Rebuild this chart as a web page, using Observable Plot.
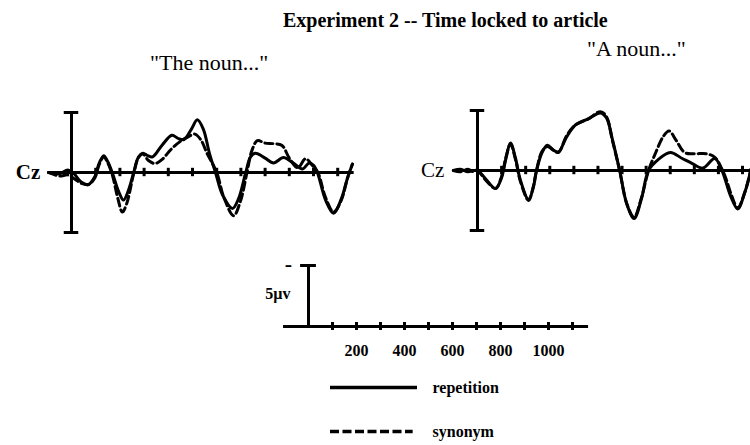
<!DOCTYPE html>
<html><head><meta charset="utf-8">
<script src="https://cdn.jsdelivr.net/npm/d3@7"></script>
<script src="https://cdn.jsdelivr.net/npm/@observablehq/plot@0.6"></script>
<style>
body{margin:0;background:#fff}
#fig{position:relative;width:750px;height:445px;overflow:hidden;font-family:"Liberation Serif",serif;color:#000}
#fig svg{position:absolute;left:0;top:0}
.lbl{position:absolute;white-space:nowrap;line-height:22px}
</style></head>
<body>
<div id="fig">
  <div class="lbl" id="title" style="left:283px;top:9px;font-size:20px;font-weight:bold;">Experiment 2 -- Time locked to article</div>
  <div class="lbl" id="sub1" style="left:150px;top:52px;font-size:22px;">"The noun..."</div>
  <div class="lbl" id="sub2" style="left:587px;top:38px;font-size:22px;">"A noun..."</div>
</div>
<script>
// ---- data (time in ms, amplitude in µV; negative plotted up) ----
const seriesNames = ["repetition", "synonym"];
const panelTitles = ["\"The noun...\"", "\"A noun...\""];
const channelLabel = "Cz";
const panelTicks = [100, 200, 300, 400, 500, 600, 700, 800, 900, 1000, 1100];
const scaleTickLabels = [200, 400, 600, 800, 1000];
const scaleLabel = "5µv";

const theRepetition = [[-95,0],[-50,0.1],[-15,-0.2],[10,0.1],[40,0.8],[70,1.0],[95,0.4],[115,-0.8],[133,-1.4],[150,-0.9],[170,0.1],[195,1.6],[215,2.3],[235,1.5],[257,0],[275,-1.2],[295,-1.6],[315,-1.4],[335,-1.3],[375,-2.3],[415,-3.1],[440,-2.85],[465,-2.75],[495,-3.6],[520,-4.4],[545,-3.6],[570,-1.6],[595,0],[625,1.9],[665,3.0],[690,2.2],[720,0],[740,-1.3],[760,-1.6],[800,-1.2],[835,-0.8],[876,-1.25],[915,-0.8],[955,-0.3],[982,-0.8],[1000,-0.6],[1016,0],[1050,2.3],[1083,3.4],[1115,2.2],[1140,0.5],[1161,-0.7]];
const theSynonym = [[-95,0],[-50,0.3],[-15,0.2],[10,0.5],[40,0.9],[70,1.0],[95,0.5],[115,-0.7],[133,-1.3],[150,-0.8],[170,0.3],[192,2.2],[210,3.3],[228,2.6],[258,0],[278,-1.3],[295,-1.55],[318,-1.0],[345,-0.75],[375,-1.1],[410,-1.9],[450,-2.6],[480,-2.95],[510,-3.2],[535,-2.7],[560,-1.6],[600,0],[630,2.1],[670,3.6],[698,2.4],[725,0],[745,-1.8],[768,-2.65],[800,-2.45],[835,-2.4],[870,-2.25],[900,-1.2],[935,-0.4],[967,-1.15],[995,-0.6],[1018,0],[1050,2.1],[1083,3.3],[1115,2.3],[1140,0.5],[1161,-0.7]];
const aRepetition = [[-100,0],[-70,-0.1],[-40,0.1],[-15,0],[0,0],[30,0.6],[75,1.5],[100,0.6],[118,-1.0],[137,-2.3],[158,-1.0],[178,0.8],[212,2.4],[232,1.4],[245,0],[268,-1.5],[290,-2.1],[315,-1.7],[336,-1.55],[370,-2.8],[407,-3.8],[460,-4.3],[510,-4.8],[535,-4.4],[560,-2.6],[590,0],[620,2.8],[650,4.0],[680,2.4],[710,0],[750,-0.9],[800,-1.5],[850,-1.0],[890,-0.6],[935,-0.2],[985,-1.0],[1015,0],[1050,2.1],[1080,3.2],[1110,1.8],[1135,-0.1]];
const aSynonym = [[-100,0],[-70,0.1],[-40,-0.1],[-15,0.1],[0,0],[30,0.7],[75,1.5],[100,0.5],[118,-1.1],[137,-2.2],[158,-0.9],[178,0.9],[212,2.5],[232,1.3],[245,0],[268,-1.6],[290,-2.0],[315,-1.7],[336,-1.5],[370,-2.9],[407,-3.8],[460,-4.3],[510,-4.9],[535,-4.5],[560,-2.5],[590,0],[620,2.8],[650,3.9],[680,2.3],[710,0],[740,-1.5],[770,-2.8],[795,-3.3],[825,-2.5],[860,-1.5],[900,-1.4],[950,-1.4],[985,-1.1],[1010,-0.3],[1030,0.6],[1055,2.1],[1080,3.1],[1110,1.8],[1135,-0.1]];

const fig = document.getElementById("fig");
const font = "Liberation Serif";
const base = {width: 750, height: 445, axis: null, style: {background: "transparent", fontFamily: font, color: "black"}};

function panel(rep, syn, xr, yr, bold, cdx) {
  return Plot.plot({
    ...base,
    x: {domain: [-100, 1200], range: xr, axis: null},
    y: {domain: [-5, 5], range: yr, axis: null},
    marks: [
      Plot.ruleY([0], {x1: -97, x2: 1168, stroke: "black", strokeWidth: 3}),
      Plot.ruleX([0], {y1: -5, y2: 5, stroke: "black", strokeWidth: 3}),
      Plot.ruleY([-5, 5], {x1: -30, x2: 30, stroke: "black", strokeWidth: 3}),
      Plot.ruleX(panelTicks, {y1: -0.35, y2: 0.35, stroke: "black", strokeWidth: 3}),
      Plot.line(rep, {x: d => d[0], y: d => d[1], stroke: "black", strokeWidth: 3, curve: "catmull-rom"}),
      Plot.line(syn, {x: d => d[0], y: d => d[1], stroke: "black", strokeWidth: 3, strokeDasharray: "8,4", curve: "catmull-rom"}),
      Plot.text([channelLabel], {x: -100, y: 0, text: d => d, dx: cdx, textAnchor: "end", fontSize: 21, fontWeight: bold ? "bold" : "normal", fill: "black"})
    ]
  });
}

fig.appendChild(panel(theRepetition, theSynonym, [46.8, 361.4], [112, 232], true, -7));
fig.appendChild(panel(aRepetition, aSynonym, [452.9, 766.1], [110, 230], false, -9));

// scale bar
fig.appendChild(Plot.plot({
  ...base,
  x: {domain: [-100, 1200], range: [284, 596], axis: null},
  y: {domain: [-5, 0], range: [265, 326], axis: null},
  marks: [
    Plot.ruleY([0], {x1: -104, x2: 1167, stroke: "black", strokeWidth: 3}),
    Plot.ruleX([0], {y1: -5, y2: 0, stroke: "black", strokeWidth: 3}),
    Plot.ruleY([-5], {x1: -33, x2: 33, stroke: "black", strokeWidth: 3}),
    Plot.ruleX(panelTicks, {y1: -0.33, y2: 0.33, stroke: "black", strokeWidth: 3}),
    Plot.text(["-"], {x: 0, y: -5, text: d => d, dx: -20, dy: -2, fontSize: 22, fontWeight: "bold", fill: "black"}),
    Plot.text([scaleLabel], {x: 0, y: -2.7, text: d => d, dx: -18, textAnchor: "end", fontSize: 16, fontWeight: "bold", fill: "black"}),
    Plot.text(scaleTickLabels, {x: d => d, y: 0, text: d => String(d), dy: 24, fontSize: 16, fontWeight: "bold", fill: "black"})
  ]
}));

// legend
fig.appendChild(Plot.plot({
  ...base,
  x: {domain: [0, 1], range: [330, 417], axis: null},
  y: {type: "point", domain: seriesNames, range: [387, 431], padding: 0, axis: null},
  marks: [
    Plot.ruleY([seriesNames[0]], {x1: 0, x2: 1, stroke: "black", strokeWidth: 3.5}),
    Plot.ruleY([seriesNames[1]], {x1: 0, x2: 0.95, stroke: "black", strokeWidth: 3.5, strokeDasharray: "9,3.5"}),
    Plot.text(seriesNames, {x: 1, y: d => d, text: d => d, dx: 15, textAnchor: "start", fontSize: 16, fontWeight: "bold", fill: "black"})
  ]
}));
</script>
</body></html>
